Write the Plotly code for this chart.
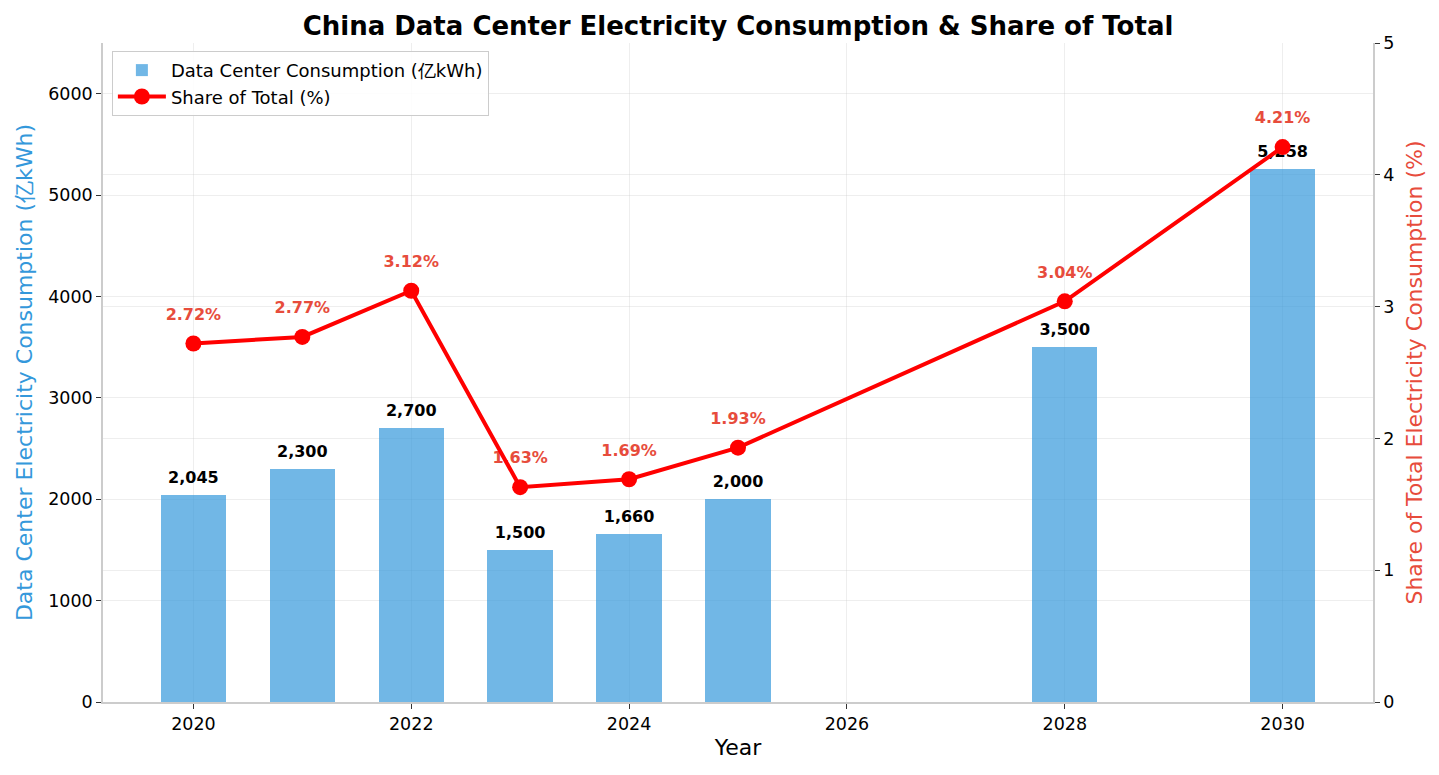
import plotly.graph_objects as go

# China data center electricity use (亿kWh) and share of national total (%)
years = [2020, 2021, 2022, 2023, 2024, 2025, 2028, 2030]
consumption = [2045, 2300, 2700, 1500, 1660, 2000, 3500, 5258]
share_pct = [2.72, 2.77, 3.12, 1.63, 1.69, 1.93, 3.04, 4.21]

BLUE = "#3498db"
RED = "#e74c3c"
FONT = "DejaVu Sans"
GRID = "rgba(200,200,200,0.3)"
SPINE = "#cccccc"

fig = go.Figure()

fig.add_trace(go.Bar(
    x=years, y=consumption, width=0.6,
    marker=dict(color="rgba(52,152,219,0.7)", line=dict(width=0)),
    name="Data Center Consumption (亿kWh)",
))

# bar value labels
fig.add_trace(go.Scatter(
    x=years, y=consumption, mode="markers+text",
    marker=dict(size=11, opacity=0),
    text=[f"{v:,}" for v in consumption], textposition="top center",
    textfont=dict(family=FONT, size=16, color="black", weight="bold"),
    showlegend=False, hoverinfo="skip",
))

# percent labels (under the line, like the original)
fig.add_trace(go.Scatter(
    x=years, y=share_pct, yaxis="y2", mode="markers+text",
    marker=dict(size=30, opacity=0),
    text=[f"{v:.2f}%" for v in share_pct], textposition="top center",
    textfont=dict(family=FONT, size=16, color=RED, weight="bold"),
    showlegend=False, hoverinfo="skip",
))

fig.add_trace(go.Scatter(
    x=years, y=share_pct, yaxis="y2", mode="lines+markers",
    line=dict(color="red", width=4),
    marker=dict(color="red", size=16),
    name="Share of Total (%)",
))

axis_common = dict(
    showline=True, linecolor=SPINE, linewidth=1.5, zeroline=False,
    showgrid=True, gridcolor=GRID,
    ticks="outside", ticklen=5, tickcolor="#333",
    tickfont=dict(size=17.5),
)

fig.update_layout(
    width=1439, height=775,
    margin=dict(l=95, r=74, t=35, b=81),
    paper_bgcolor="white", plot_bgcolor="white",
    font=dict(family=FONT, size=17, color="black"),
    title=dict(
        text="<b>China Data Center Electricity Consumption & Share of Total</b>",
        x=0.5, xref="paper", xanchor="center", y=0.989, yanchor="top",
        font=dict(family=FONT, size=26, color="black"),
    ),
    xaxis=dict(
        range=[2019.17, 2030.83], tickmode="linear", tick0=2020, dtick=2,
        title=dict(text="Year", font=dict(size=22), standoff=7),
        **axis_common,
    ),
    yaxis=dict(
        range=[0, 6500], tickmode="linear", tick0=0, dtick=1000,
        title=dict(text="Data Center Electricity Consumption (亿kWh)",
                   font=dict(size=22, color=BLUE), standoff=10),
        **axis_common,
    ),
    yaxis2=dict(
        range=[0, 5], tickmode="linear", tick0=0, dtick=1,
        overlaying="y", side="right",
        title=dict(text="Share of Total Electricity Consumption (%)",
                   font=dict(size=22, color=RED), standoff=13),
        **axis_common,
    ),
    legend=dict(
        x=0.007, y=0.988, xanchor="left", yanchor="top",
        bgcolor="rgba(255,255,255,0.85)", bordercolor=SPINE, borderwidth=1,
        font=dict(family=FONT, size=18), itemwidth=48,
    ),
    bargap=0,
)

fig.write_html("out.html")
